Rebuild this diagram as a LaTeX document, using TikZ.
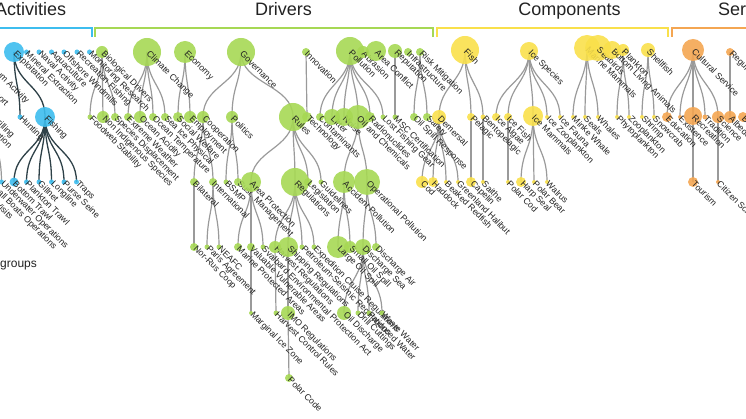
\documentclass[tikz,border=0pt]{standalone}
\usepackage{fontspec}
\setmainfont{Liberation Sans}
\usetikzlibrary{backgrounds}

\definecolor{act}{HTML}{3DBDEE}
\definecolor{drv}{HTML}{A6D854}
\definecolor{cmp}{HTML}{F9E04B}
\definecolor{srv}{HTML}{F4A652}
\definecolor{lnk}{HTML}{9A9A9A}
\definecolor{hot}{HTML}{2E4148}
\definecolor{txt}{HTML}{222222}

\tikzset{
  dot/.style={circle, inner sep=0pt, draw=none, fill opacity=0.9},
  lbl/.style={rotate=-45, anchor=west, inner sep=0.8pt,
    font=\fontsize{8.8}{9}\selectfont, text=txt},
  link/.style={draw=lnk, line width=1.2pt},
  hotlink/.style={draw=hot, line width=1.3pt},
  head/.style={font=\fontsize{18}{20}\selectfont, text=txt, anchor=base},
  brace/.style={line width=2pt}
}

% circle with its slanted name
\newcommand{\bub}[6]{%
  \node[dot, fill=#5, minimum size=2*#4pt] (#1) at (#2,#3) {};
  \node[lbl] at (#1.center) {#6};}
% tree link, parent to child
\newcommand{\twig}[3][link]{%
  \draw[#1] (#2.center) .. controls +(0,32.5) and +(0,-32.5) .. (#3.center);}

\begin{document}
\begin{tikzpicture}[x=1pt, y=-1pt]
  \useasboundingbox (0,0) rectangle (746,419);
  \clip (0,0) rectangle (746,419);

  % headers
  \node[head, anchor=base west, inner sep=0pt] (hact) at (-5,16) {Activities};
  \node[head] (hdrv) at (283.5,16) {Drivers};
  \node[head] (hcmp) at (569.5,16) {Components};
  \node[head] (hsrv) at (752.5,16) {Services};
  \draw[brace, act] (-10,28) -- (92,28) -- (92,37);
  \draw[brace, drv] (95,37) -- (95,28) -- (433,28) -- (433,37);
  \draw[brace, cmp] (437,37) -- (437,28) -- (668,28) -- (668,37);
  \draw[brace, srv] (672,37) -- (672,28) -- (760,28);

  % activities
  \bub{mtr}{-46}{52}{2.5}{act}{Maritime Transport}
  \bub{pac}{-23}{52}{2.5}{act}{Petroleum Activity}
  \bub{xpl}{14}{52}{10}{act}{Exploitation}
  \bub{mex}{26.5}{52}{2.5}{act}{Mineral Extraction}
  \bub{nav}{39}{52}{2.5}{act}{Naval Activity}
  \bub{aqu}{51.5}{52}{2.5}{act}{Aquaculture}
  \bub{off}{64}{52}{2.5}{act}{Offshore Windmills}
  \bub{rfi}{77}{52}{2.5}{act}{Recreation Fishing}
  \bub{mon}{89.5}{52}{2.5}{act}{Monitoring Research}
  \bub{sai}{-20}{117}{2.5}{act}{Navigation}
  \bub{dri}{-7}{117}{2.5}{act}{Drilling}
  \bub{hun}{20}{117}{2.5}{act}{Hunting}
  \bub{fis}{45}{117}{10}{act}{Fishing}
  \bub{nvi}{-24}{182}{2.5}{act}{Nature Visits}
  \bub{sbo}{-11}{182}{2.5}{act}{Small Boats Operations}
  \bub{uwo}{1.5}{182}{2.5}{act}{Underwater Operations}
  \bub{btr}{14}{182}{4.5}{act}{Bottom Trawl}
  \bub{ptr}{26.5}{182}{2.5}{act}{Plankton Trawl}
  \bub{gil}{39}{182}{2.5}{act}{Gillnet}
  \bub{lon}{51.5}{182}{2.5}{act}{Longline}
  \bub{pur}{64}{182}{2.5}{act}{Purse Seine}
  \bub{trp}{76.5}{182}{2.5}{act}{Traps}

  % drivers
  \bub{bio}{102}{52}{6}{drv}{Biological Drivers}
  \bub{cli}{147}{52}{14}{drv}{Climate Change}
  \bub{eco}{185}{52}{11}{drv}{Economy}
  \bub{gov}{241}{52}{14}{drv}{Governance}
  \bub{inn}{306}{52}{4}{drv}{Innovation}
  \bub{pol}{350}{51}{14}{drv}{Pollution}
  \bub{abr}{363}{52}{6}{drv}{Abrasion}
  \bub{arc}{376}{51}{10}{drv}{Area Conflict}
  \bub{rep}{395}{51}{7}{drv}{Reputation}
  \bub{inf}{408}{52}{4}{drv}{Infrastructure}
  \bub{ris}{420}{52}{4}{drv}{Risk Mitigation}

  \bub{fws}{90}{117}{2.5}{drv}{Foodweb Stability}
  \bub{nis}{103}{117}{6}{drv}{Non Indigenous Species}
  \bub{spd}{115}{117}{4}{drv}{Species Displacement}
  \bub{exw}{128}{117}{4}{drv}{Extreme Weather}
  \bub{oac}{140}{117}{6}{drv}{Ocean Acidity}
  \bub{ote}{153}{117}{4}{drv}{Ocean Temperature}
  \bub{sip}{165}{117}{4}{drv}{Sea Ice Physical}
  \bub{sow}{178}{117}{5}{drv}{Social Welfare}
  \bub{emp}{190}{117}{6}{drv}{Employment}
  \bub{coo}{203}{117}{6}{drv}{Cooperation}
  \bub{pli}{232}{117}{6}{drv}{Politics}
  \bub{rul}{293}{117}{14}{drv}{Rules}
  \bub{tec}{307}{117}{5}{drv}{Technology}
  \bub{con}{320}{117}{4}{drv}{Contaminants}
  \bub{lit}{332}{117}{8}{drv}{Litter}
  \bub{noi}{344}{117}{9}{drv}{Noise}
  \bub{oil}{358}{117}{12}{drv}{Oil and Chemicals}
  \bub{rad}{370}{117}{5}{drv}{Radionuclides}
  \bub{lfg}{383}{117}{2.5}{drv}{Lost Fishing Gear}
  \bub{msc}{395}{117}{2.5}{drv}{MSC Certification}
  \bub{osr}{414}{117}{4}{drv}{Oil Spill Response}
  \bub{saf}{427}{117}{4}{drv}{Safety}

  \bub{bil}{194}{182}{4}{drv}{Bilateral}
  \bub{int}{213}{182}{4}{drv}{International}
  \bub{bsm}{226}{182}{2.5}{drv}{BSMP}
  \bub{sus}{238}{182}{4}{drv}{Sust. Management}
  \bub{arp}{251}{182}{10}{drv}{Area Protection}
  \bub{reg}{295}{182}{14}{drv}{Regulations}
  \bub{leg}{308}{182}{4}{drv}{Legislation}
  \bub{gui}{321}{182}{2.5}{drv}{Guidelines}
  \bub{acp}{344}{182}{11}{drv}{Accident Pollution}
  \bub{opp}{367}{182}{13}{drv}{Operational Pollution}

  \bub{nrc}{194}{247}{4}{drv}{Nor-Rus Coop}
  \bub{par}{207}{247}{2.5}{drv}{Paris Agreement}
  \bub{nea}{219}{247}{2.5}{drv}{NEAFC}
  \bub{mpa}{238}{247}{4}{drv}{Marine Protected Areas}
  \bub{vva}{251}{247}{4}{drv}{Valuable Vulnerable Areas}
  \bub{sva}{263}{247}{2.5}{drv}{Svalbard Environmental Protection Act}
  \bub{har}{275}{247}{6}{drv}{Harvest Regulations}
  \bub{shi}{288}{247}{10}{drv}{Shipping Regulations}
  \bub{pet}{302}{247}{2.5}{drv}{Petroleum-Seismic Regulations}
  \bub{exc}{314}{247}{2.5}{drv}{Expedition Cruise Regulations}
  \bub{los}{338}{247}{11}{drv}{Large Oil Spill}
  \bub{sos}{350}{247}{6}{drv}{Small Oil Spill}
  \bub{dse}{363}{247}{8}{drv}{Discharge Sea}
  \bub{dai}{376}{247}{4}{drv}{Discharge Air}

  \bub{miz}{251}{313}{2}{drv}{Marginal Ice Zone}
  \bub{hcr}{276}{313}{2.5}{drv}{Harvest Control Rules}
  \bub{imo}{288}{313}{7}{drv}{IMO Regulations}
  \bub{odi}{344}{313}{7}{drv}{Oil Discharge}
  \bub{dcu}{358}{313}{2.5}{drv}{Drill Cuttings}
  \bub{pwa}{369}{313}{2.5}{drv}{Produced Water}
  \bub{wwa}{382}{313}{2.5}{drv}{Waste Water}
  \bub{pco}{289}{378}{4}{drv}{Polar Code}

  % components
  \bub{fsh}{465}{50}{14}{cmp}{Fish}
  \bub{ics}{529}{51}{9}{cmp}{Ice Species}
  \bub{mam}{587}{48}{13}{cmp}{Marine Mammals}
  \bub{sbi}{598}{48}{13}{cmp}{Seabirds}
  \bub{bla}{612}{50}{9}{cmp}{Bottom Living Animals}
  \bub{pla}{623}{50}{6}{cmp}{Plankton}
  \bub{she}{648}{50}{7}{cmp}{Shellfish}

  \bub{dem}{439}{117}{7}{cmp}{Demersal}
  \bub{pel}{471}{117}{4}{cmp}{Pelagic}
  \bub{ben}{483}{117}{2.5}{cmp}{Bentopelagic}
  \bub{ial}{496}{117}{4}{cmp}{Ice Algae}
  \bub{ifi}{508}{117}{4}{cmp}{Ice Fish}
  \bub{ima}{533}{116}{10}{cmp}{Ice Mammals}
  \bub{izo}{547}{117}{2}{cmp}{Ice Zooplankton}
  \bub{ifa}{560}{117}{2}{cmp}{Ice Fauna}
  \bub{mwh}{573}{117}{2}{cmp}{Minke Whale}
  \bub{sea}{585}{117}{2}{cmp}{Seals}
  \bub{wha}{598}{117}{2}{cmp}{Whales}
  \bub{phy}{617}{117}{2}{cmp}{Phytoplankton}
  \bub{zoo}{629}{117}{2}{cmp}{Zooplankton}
  \bub{shr}{642}{117}{2}{cmp}{Shrimp}
  \bub{sno}{654}{117}{2}{cmp}{Snowcrab}

  \bub{cod}{422}{182}{6}{cmp}{Cod}
  \bub{had}{433}{182}{5}{cmp}{Haddock}
  \bub{bre}{446}{182}{2}{cmp}{Beaked Redfish}
  \bub{ghl}{458}{182}{2}{cmp}{Greenland Halibut}
  \bub{cap}{471}{182}{5}{cmp}{Capelin}
  \bub{sth}{483}{182}{2}{cmp}{Saithe}
  \bub{pcd}{508}{182}{2}{cmp}{Polar Cod}
  \bub{hse}{521}{182}{5}{cmp}{Harp Seal}
  \bub{pbe}{534}{182}{2}{cmp}{Polar Bear}
  \bub{wal}{547}{182}{2}{cmp}{Walrus}

  % services
  \bub{cul}{693}{50}{11}{srv}{Cultural Service}
  \bub{rgs}{730}{52}{4}{srv}{Regulating Service}
  \bub{edu}{667}{117}{5}{srv}{Education}
  \bub{exi}{680}{117}{2}{srv}{Existence}
  \bub{rec}{693}{116}{9}{srv}{Recreation}
  \bub{tra}{705}{117}{2.5}{srv}{Tradition}
  \bub{sci}{718}{117}{6}{srv}{Science}
  \bub{alb}{730}{117}{6}{srv}{Albedo}
  \bub{buf}{743}{117}{5}{srv}{Buffer}
  \bub{tou}{693}{182}{5}{srv}{Tourism}
  \bub{cit}{718}{182}{2}{srv}{Citizen Science}

  \node[font=\fontsize{12}{14}\selectfont, text=txt, anchor=base west, inner sep=0pt] (grp) at (0,268) {groups};

  \begin{scope}[on background layer]
    \clip (0,0) rectangle (746,419);
    \twig[hotlink]{xpl}{hun}
    \twig[hotlink]{xpl}{fis}
    \twig{pac}{dri}
    \twig{pac}{sai}
    \twig{dri}{uwo}
    \twig{sai}{sbo}
    \twig{sai}{nvi}
    \twig[hotlink]{fis}{btr}
    \twig[hotlink]{fis}{ptr}
    \twig[hotlink]{fis}{gil}
    \twig[hotlink]{fis}{lon}
    \twig[hotlink]{fis}{pur}
    \twig[hotlink]{fis}{trp}

    \twig{bio}{fws}
    \twig{bio}{nis}
    \twig{bio}{spd}
    \twig{cli}{exw}
    \twig{cli}{oac}
    \twig{cli}{ote}
    \twig{cli}{sip}
    \twig{eco}{sow}
    \twig{eco}{emp}
    \twig{gov}{coo}
    \twig{gov}{pli}
    \twig{gov}{rul}
    \twig{inn}{tec}
    \twig{pol}{con}
    \twig{pol}{lit}
    \twig{pol}{noi}
    \twig{pol}{oil}
    \twig{pol}{rad}
    \twig{pol}{lfg}
    \twig{rep}{msc}
    \twig{ris}{osr}
    \twig{ris}{saf}

    \twig{coo}{bil}
    \twig{coo}{int}
    \twig{pli}{bsm}
    \twig{pli}{sus}
    \twig{rul}{arp}
    \twig{rul}{reg}
    \twig{rul}{leg}
    \twig{rul}{gui}
    \twig{oil}{acp}
    \twig{oil}{opp}

    \twig{bil}{nrc}
    \twig{int}{par}
    \twig{int}{nea}
    \twig{arp}{mpa}
    \twig{arp}{vva}
    \twig{arp}{sva}
    \twig{reg}{har}
    \twig{reg}{shi}
    \twig{reg}{pet}
    \twig{reg}{exc}
    \twig{acp}{los}
    \twig{acp}{sos}
    \twig{opp}{dse}
    \twig{opp}{dai}
    \twig{vva}{miz}
    \twig{har}{hcr}
    \twig{shi}{imo}
    \twig{dse}{odi}
    \twig{dse}{dcu}
    \twig{dse}{pwa}
    \twig{dse}{wwa}
    \twig{imo}{pco}

    \twig{fsh}{dem}
    \twig{fsh}{pel}
    \twig{fsh}{ben}
    \twig{ics}{ial}
    \twig{ics}{ifi}
    \twig{ics}{ima}
    \twig{ics}{izo}
    \twig{ics}{ifa}
    \twig{mam}{mwh}
    \twig{mam}{sea}
    \twig{mam}{wha}
    \twig{pla}{phy}
    \twig{pla}{zoo}
    \twig{she}{shr}
    \twig{she}{sno}
    \twig{dem}{cod}
    \twig{dem}{had}
    \twig{dem}{bre}
    \twig{dem}{ghl}
    \twig{pel}{cap}
    \twig{ben}{sth}
    \twig{ifi}{pcd}
    \twig{ima}{hse}
    \twig{ima}{pbe}
    \twig{ima}{wal}

    \twig{cul}{edu}
    \twig{cul}{exi}
    \twig{cul}{rec}
    \twig{cul}{tra}
    \twig{cul}{sci}
    \twig{rgs}{alb}
    \twig{rec}{tou}
    \twig{sci}{cit}
  \end{scope}
\end{tikzpicture}
\end{document}
